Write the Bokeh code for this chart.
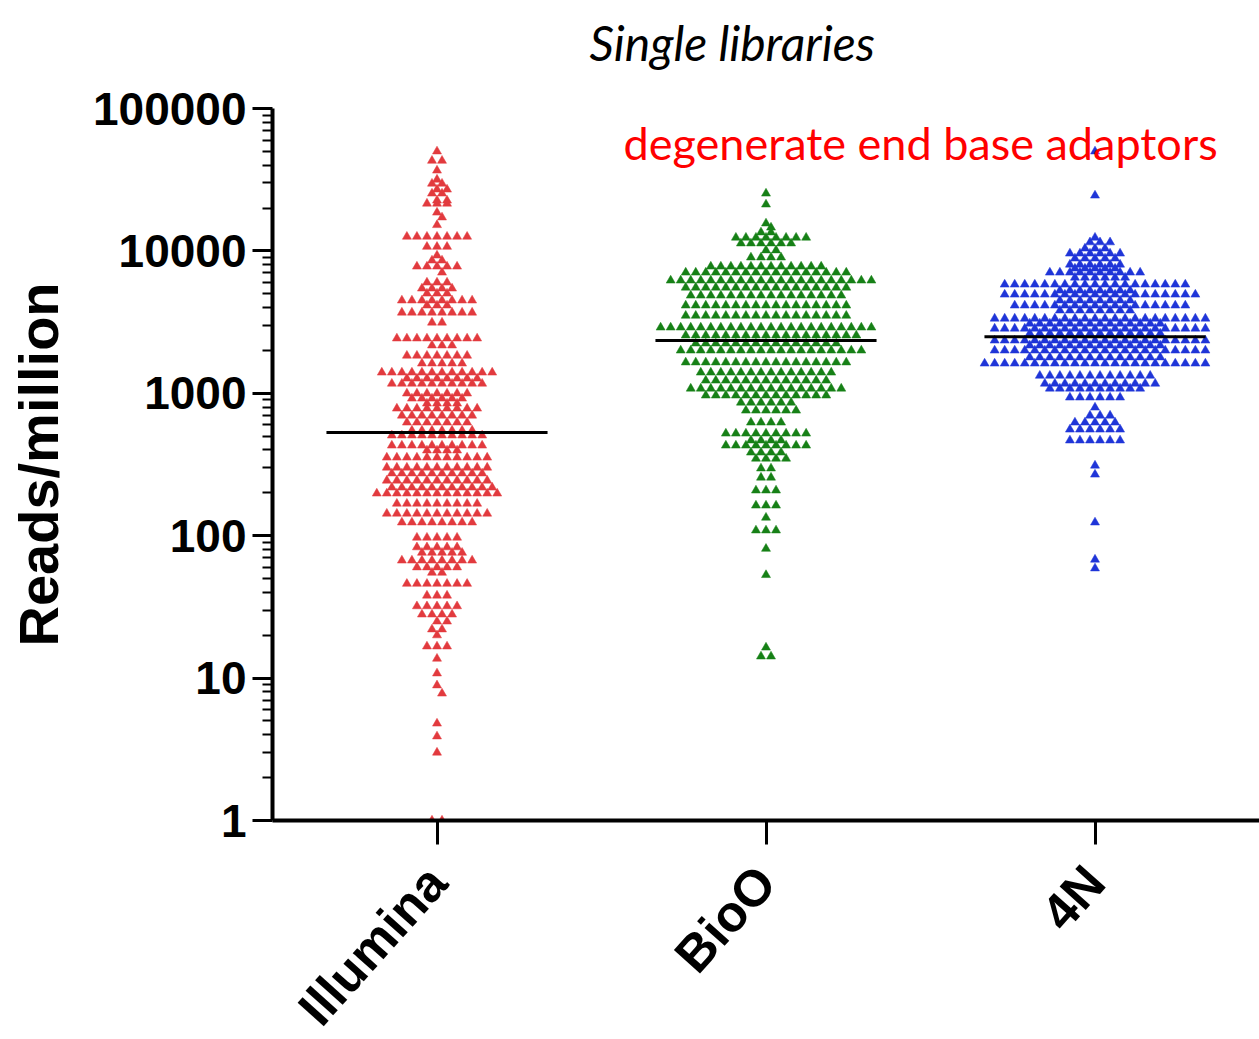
import math
import numpy as np
from bokeh.plotting import figure
from bokeh.layouts import column
from bokeh.models import FixedTicker, Label, ColumnDataSource, Range1d
from bokeh.embed import file_html
from bokeh.resources import INLINE

categories = ["Illumina", "BioO", "4N"]

illumina_values = [50000, 43000, 36700, 31700, 29700, 27000, 25300, 22600, 21500, 18600, 17200, 15200,
                   12600, 10700, 9290, 8570, 7770, 7050, 6000, 5450, 5020, 4490, 4140, 3690, 3140,
                   2430, 2170, 1840, 1620, 1400, 1270, 1170, 998, 919, 848, 782, 698, 624, 548, 506,
                   430, 397, 354, 301, 274, 244, 218, 198, 168, 143, 124,
                   97, 83, 76, 67, 60, 55, 46, 38, 32, 28, 25, 22, 20, 16.7, 13.7, 10.8, 8.9, 7.8,
                   4.8, 3.9, 3.0, 1.0]
illumina_counts = [1, 2, 1, 1, 2, 2, 2, 2, 3, 1, 1, 1,
                   7, 3, 1, 2, 5, 1, 3, 4, 3, 8, 3, 8, 2,
                   9, 3, 7, 5, 12, 8, 10, 7, 6, 4, 9, 8, 7, 7, 10,
                   10, 4, 11, 11, 10, 11, 11, 13, 9, 11, 8,
                   5, 5, 5, 8, 5, 2, 7, 3, 5, 4, 2, 2, 1, 3, 1, 1, 1, 1,
                   1, 1, 1, 2]

bioo_values = [25300, 21200, 15600, 14600, 13500, 12400, 11300, 10100, 9000, 7770,
               7050, 6200, 5530, 4860, 4140, 3510, 2900, 2550, 2240, 2000,
               1650, 1400, 1230, 1080, 966, 861, 757, 624, 522, 467,
               430, 384, 348, 297, 256, 208, 163, 134, 109, 81,
               53, 16.4, 14.2]
bioo_counts = [1, 1, 1, 1, 2, 8, 6, 2, 4, 12,
               17, 21, 17, 16, 17, 17, 22, 18, 15, 19,
               17, 14, 13, 16, 13, 6, 6, 4, 9, 4,
               9, 4, 4, 2, 2, 3, 3, 1, 3, 1,
               1, 1, 2]

n4_values = [50000, 24500, 12400, 11500, 10400, 9590, 8850, 8020, 7520, 7050,
             6500, 5810, 5270, 4940, 4490, 4140, 3820, 3350, 3090, 2850,
             2630, 2350, 2170, 2000, 1790, 1620, 1330, 1170, 1080, 935,
             795, 698, 624, 557, 467, 311, 269, 124, 68, 59]
n4_counts = [1, 1, 1, 3, 3, 6, 5, 6, 5, 10,
             6, 19, 8, 20, 8, 18, 8, 22, 14, 22,
             14, 22, 14, 22, 14, 23, 12, 12, 10, 6,
             1, 3, 5, 6, 6, 1, 1, 1, 1, 1]

medians = [530, 2350, 2500]
colors = ["#E23A3E", "#168016", "#1F35D8"]
tick_values = [1, 10, 100, 1000, 10000, 100000]
tick_labels = ["1", "10", "100", "1000", "10000", "100000"]

groups = [(illumina_values, illumina_counts), (bioo_values, bioo_counts), (n4_values, n4_counts)]


def swarm(center, values, counts, step=0.0305):
    xs, ys = [], []
    prev_lv, prev_shift, prev_par = None, 0.0, None
    for v, n in zip(values, counts):
        lv = math.log10(v)
        shift = 0.0
        if prev_lv is not None and abs(prev_lv - lv) < 0.06 and prev_par == n % 2:
            shift = step / 2 if prev_shift == 0.0 else 0.0
        for i in range(n):
            xs.append(center + (i - (n - 1) / 2.0) * step + shift)
            ys.append(v)
        prev_lv, prev_shift, prev_par = lv, shift, n % 2
    return xs, ys


def strip(height, x_range):
    s = figure(width=1259, height=height, x_range=x_range, y_range=Range1d(0, height),
               output_backend="svg", toolbar_location=None,
               x_axis_location=None, y_axis_location=None,
               min_border_left=272, min_border_right=0, min_border_top=0, min_border_bottom=0)
    s.outline_line_color = None
    s.grid.visible = False
    s.background_fill_color = "white"
    s.border_fill_color = "white"
    return s


# ---------------- main panel ----------------
p = figure(width=1259, height=772, y_axis_type="log",
           x_range=Range1d(0.5, 3.5), y_range=Range1d(1, 100000),
           output_backend="svg", toolbar_location=None,
           min_border_left=272, min_border_right=0, min_border_top=30, min_border_bottom=30)
p.outline_line_color = None
p.grid.visible = False
p.background_fill_color = "white"
p.border_fill_color = "white"

for k, (vals, cnts) in enumerate(groups):
    xs, ys = swarm(k + 1, vals, cnts)
    src = ColumnDataSource(dict(x=xs, y=ys))
    p.scatter("x", "y", source=src, marker="triangle", size=9,
              fill_color=colors[k], line_color=colors[k], line_width=0.5)

p.segment(x0=[k + 1 - 0.336 for k in range(3)], x1=[k + 1 + 0.336 for k in range(3)],
          y0=medians, y1=medians, line_color="black", line_width=3)

minor = [m * d for d in tick_values[:-1] for m in range(2, 10)]
p.yaxis.ticker = FixedTicker(ticks=tick_values, minor_ticks=minor)
p.yaxis.major_label_overrides = {t: l for t, l in zip(tick_values, tick_labels)}
p.yaxis.axis_line_width = 4
p.yaxis.major_tick_line_width = 3
p.yaxis.minor_tick_line_width = 2
p.yaxis.major_tick_out = 20
p.yaxis.major_tick_in = 0
p.yaxis.minor_tick_out = 10
p.yaxis.minor_tick_in = 0
p.yaxis.major_label_standoff = 6
p.yaxis.major_label_text_font = "Liberation Sans"
p.yaxis.major_label_text_font_style = "bold"
p.yaxis.major_label_text_font_size = "46px"
p.yaxis.major_label_text_color = "black"
p.yaxis.axis_label = "Reads/million"
p.yaxis.axis_label_text_font = "Liberation Sans"
p.yaxis.axis_label_text_font_style = "bold"
p.yaxis.axis_label_text_font_size = "56px"
p.yaxis.axis_label_text_color = "black"
p.yaxis.axis_label_standoff = 20

p.xaxis.ticker = FixedTicker(ticks=[1, 2, 3], minor_ticks=[])
p.xaxis.major_label_overrides = {i + 1: "" for i in range(3)}
p.xaxis.major_label_standoff = 0
p.xaxis.axis_line_width = 4
p.xaxis.major_tick_line_width = 3
p.xaxis.major_tick_out = 24
p.xaxis.major_tick_in = 0

p.add_layout(Label(x=1.567, y=56800, text="degenerate end base adaptors",
                   text_font="Lato", text_font_size="45px", text_color="#FF0000",
                   text_baseline="alphabetic", text_align="left"))

# ---------------- title strip (shares the x scale) ----------------
top = strip(78, p.x_range)
top.add_layout(Label(x=1.4636, y=36, text="Single libraries",
                     text_font="Lato", text_font_style="italic", text_font_size="48px",
                     text_color="black", text_align="left", text_baseline="alphabetic"))

# ---------------- category-name strip (shares the x scale) ----------------
bottom = strip(189, p.x_range)
for i, c in enumerate(categories):
    bottom.add_layout(Label(x=i + 1, y=166, text=c, angle=0.84,
                            text_font="Liberation Sans", text_font_style="bold",
                            text_font_size="51px", text_color="black",
                            text_align="right", text_baseline="alphabetic"))

layout = column(top, p, bottom, spacing=0)
open("out.html", "w").write(file_html(layout, INLINE))
